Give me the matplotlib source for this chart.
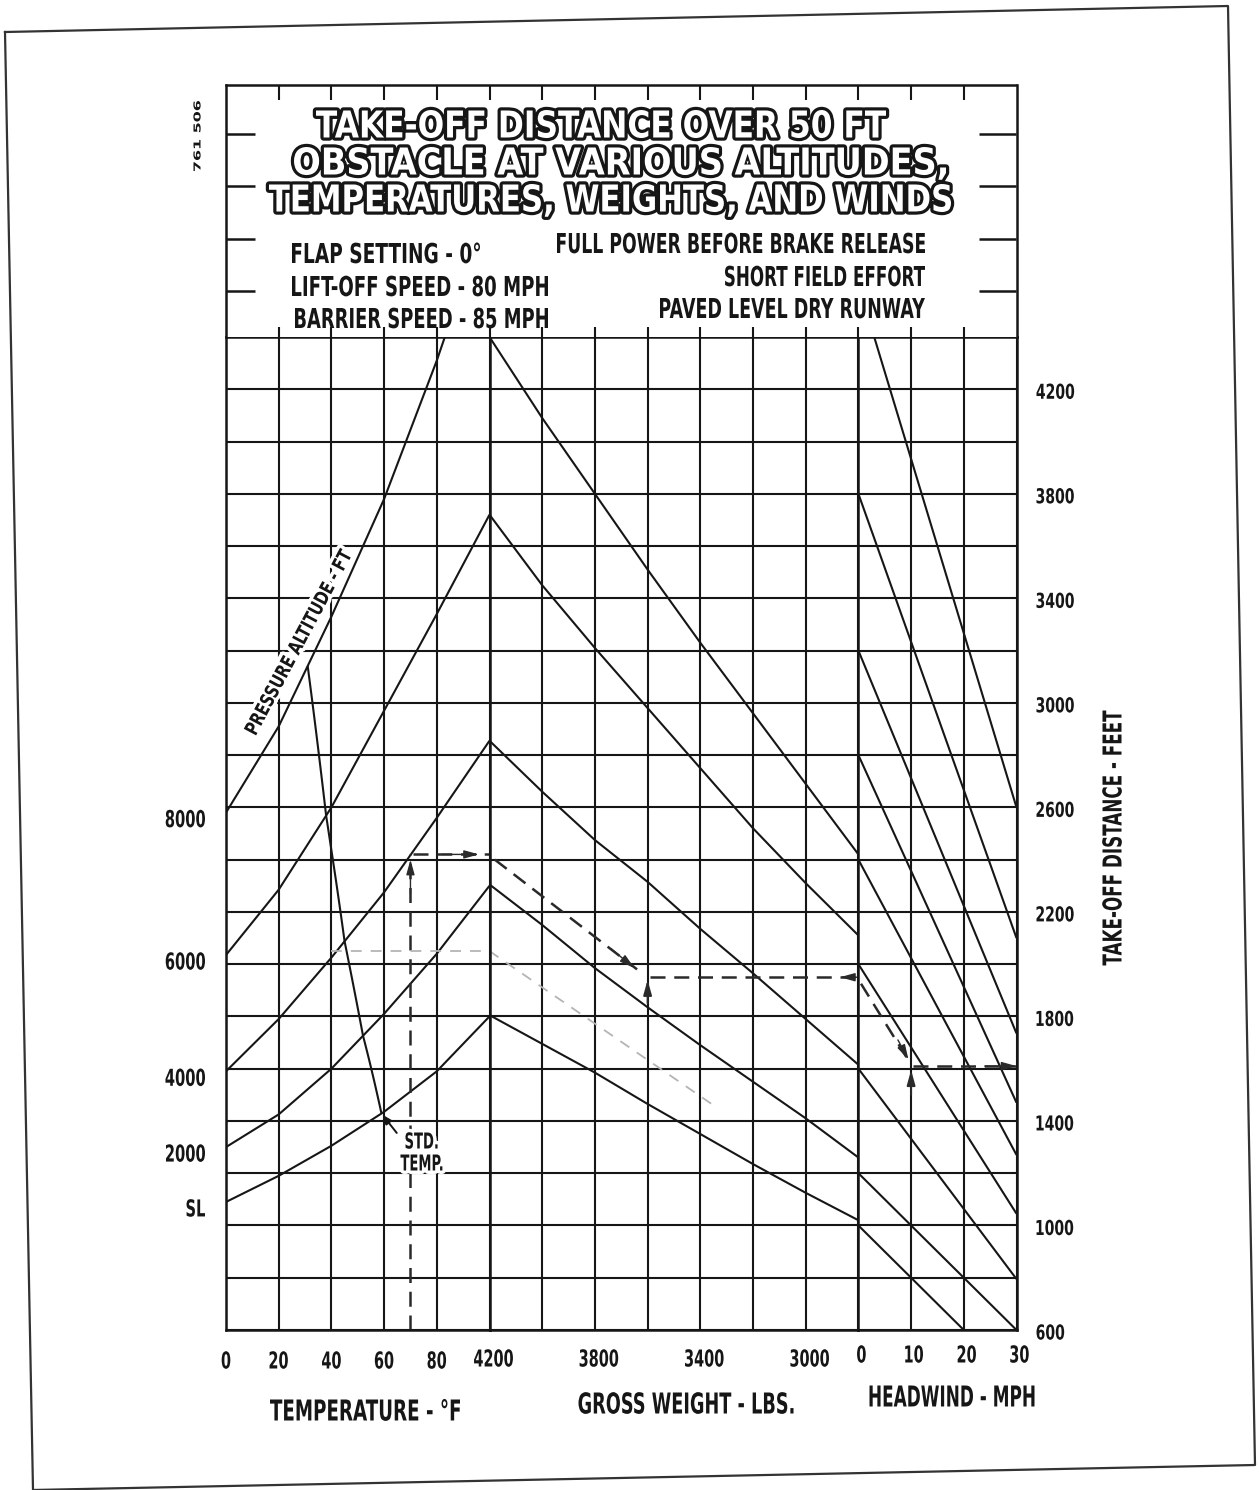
import numpy as np
import matplotlib.pyplot as plt
from matplotlib.font_manager import FontProperties
from matplotlib.textpath import TextPath
from matplotlib.patches import PathPatch
from matplotlib.transforms import Affine2D, IdentityTransform
from matplotlib.lines import Line2D

# ---- values ----
temps = [0, 20, 40, 60, 80, 100]
alt_feet = [0, 2000, 4000, 6000, 8000]
alt_labels = ["SL", "2000", "4000", "6000", "8000"]
# take-off distance (ft) of each pressure altitude curve at the temperature grid
dist_sl = [1090, 1190, 1305, 1435, 1590, 1800]
dist_2000 = [1300, 1425, 1600, 1810, 2040, 2300]
dist_4000 = [1590, 1790, 2025, 2275, 2560, 2855]
dist_6000 = [2035, 2285, 2600, 2970, 3340, 3720]
dist_8000 = [2580, 2910, 3330, 3780, 4310, 4900]
std_temp = [59, 52, 45, 38, 31]

# gross weight guide lines
weights = [4200, 4000, 3800, 3600, 3400, 3200, 3000, 2800]
guide_w1 = [4400, 4090, 3800, 3510, 3230, 2960, 2690, 2420]
guide_w2 = [3720, 3450, 3210, 2980, 2750, 2520, 2310, 2110]
guide_w3 = [2855, 2660, 2475, 2315, 2135, 1965, 1790, 1615]
guide_w4 = [2305, 2150, 1985, 1835, 1690, 1550, 1410, 1260]
guide_w5 = [1805, 1695, 1585, 1465, 1350, 1235, 1125, 1020]

# headwind guide lines: distance at 0 mph and at 30 mph
winds = [0, 30]
wind_start = [4600, 3800, 3200, 2800, 2400, 2000, 1600, 1200, 1000]
wind_end = [2600, 2100, 1735, 1470, 1270, 1045, 795, 600, 400]

# worked example (dashed)
ex_temp, ex_alt_dist = 70, 2420
ex_weight, ex_weight_dist = 3600, 1950
ex_wind, ex_result = 10, 1610
# faint second example
ex2_temp, ex2_dist = 40, 2050
ex2_weight, ex2_end = 3350, 1460

dist_ticks = list(range(600, 4401, 200))
dist_labels = [v for v in dist_ticks if (v - 600) % 400 == 0 and v <= 4200]
temp_labels = [0, 20, 40, 60, 80]
weight_labels = [4200, 3800, 3400, 3000]
wind_labels = [0, 10, 20, 30]

INK = "#161616"
W_PX, H_PX = 1259, 1490
X0, CW = 226, 52.7
Y_BOT, Y_TOP, Y_TITLE = 1330, 337, 85

fig = plt.figure(figsize=(W_PX / 100, H_PX / 100), dpi=100)

FP = FontProperties(family="DejaVu Sans", weight="bold")
CAP = 72.9  # cap height of DejaVu Sans Bold at size 100


def ptext(x, y, s, h, w=None, sq=0.62, ha="center", va="center", rot=0,
          fc=INK, halo=0, halo_fc="white", z=6):
    # narrow lettering drawn as glyph outlines; x, y in output pixels (origin bottom-left)
    tp = TextPath((0, 0), s, size=100, prop=FP)
    bb = tp.get_extents()
    k = h / CAP
    if w is not None:
        sq = w / (bb.width * k)
    dx = {"left": -bb.x0, "center": -(bb.x0 + bb.x1) / 2, "right": -bb.x1}[ha]
    dy = {"baseline": 0, "center": -CAP / 2, "top": -CAP}[va]
    tr = Affine2D().translate(dx, dy).scale(k * sq, k).rotate_deg(rot).translate(x, y)
    path = tr.transform_path(tp)
    if halo:
        fig.add_artist(PathPatch(path, fc=halo_fc, ec=halo_fc, lw=halo, joinstyle="round",
                                 transform=IdentityTransform(), zorder=z - 0.5))
    fig.add_artist(PathPatch(path, fc=fc, ec="none", lw=0,
                             transform=IdentityTransform(), zorder=z))


def top_text(x, y, s, h, **kw):
    ptext(x, H_PX - y, s, h, **kw)


def data_text(ax, xd, yd, s, h, dx=0, dy=0, **kw):
    x, y = ax.transData.transform((xd, yd))
    ptext(x + dx, y + dy, s, h, **kw)


def px_axes(x0, x1, y0, y1):
    return fig.add_axes([x0 / W_PX, 1 - y1 / H_PX, (x1 - x0) / W_PX, (y1 - y0) / H_PX])


ax_t = px_axes(X0, X0 + 5 * CW, Y_TOP, Y_BOT)
ax_w = px_axes(X0 + 5 * CW, X0 + 12 * CW, Y_TOP, Y_BOT)
ax_h = px_axes(X0 + 12 * CW, X0 + 15 * CW, Y_TOP, Y_BOT)

ax_t.set_xlim(0, 100)
ax_t.set_xticks(temps)
ax_w.set_xlim(4200, 2800)
ax_w.set_xticks(weights)
ax_h.set_xlim(0, 30)
ax_h.set_xticks(wind_labels)

for ax in (ax_t, ax_w, ax_h):
    ax.set_ylim(600, 4400)
    ax.set_yticks(dist_ticks)
    ax.grid(True, color=INK, lw=1.5)
    ax.set_axisbelow(True)
    ax.tick_params(length=0, labelbottom=False, labelleft=False)
    for s in ax.spines.values():
        s.set_linewidth(1.8)
        s.set_color(INK)

line_kw = dict(color=INK, lw=1.5, solid_capstyle="butt")

# temperature / altitude curves
curves = [dist_sl, dist_2000, dist_4000, dist_6000, dist_8000]
for lab, c in zip(alt_labels, curves):
    ax_t.plot(temps, c, **line_kw)
    data_text(ax_t, 0, c[0], lab, 17, dx=-21, dy=-6, sq=0.63, ha="right")

# standard temperature curve
alt_fine = np.linspace(0, 8000, 81)
std_fine = np.interp(alt_fine, alt_feet, std_temp)
std_dist = []
for a, t in zip(alt_fine, std_fine):
    at_t = [np.interp(t, temps, c) for c in curves]
    std_dist.append(np.interp(a, alt_feet, at_t))
ax_t.plot(std_fine, std_dist, **line_kw)
std_pt = (std_temp[0], np.interp(std_temp[0], temps, dist_sl))
ax_t.annotate("", xy=std_pt, xytext=(11, -14), textcoords="offset points",
              arrowprops=dict(arrowstyle="-|>,head_length=0.55,head_width=0.22", color=INK,
                              lw=1.4, shrinkA=0, shrinkB=1))
data_text(ax_t, *std_pt, "STD.", 16, dx=24, dy=-27, sq=0.6, ha="left", halo=5)
data_text(ax_t, *std_pt, "TEMP.", 16, dx=19, dy=-49, sq=0.6, ha="left", halo=5)

# pressure altitude caption beside the 8000 ft curve
data_text(ax_t, np.interp(3200, dist_8000, temps), 3200, "PRESSURE ALTITUDE - FT", 14,
          dx=-17, dy=9, w=205, rot=62, halo=5)

# weight guides
for g in (guide_w1, guide_w2, guide_w3, guide_w4, guide_w5):
    ax_w.plot(weights, g, **line_kw)

# headwind guides
for a, b in zip(wind_start, wind_end):
    ax_h.plot(winds, [a, b], **line_kw)

# worked example
ex_kw = dict(color="#2a2a2a", lw=1.8, ls=(0, (6, 3.5)))
ax_t.plot([ex_temp, ex_temp], [600, ex_alt_dist], **ex_kw)
ax_t.plot([ex_temp + 1, 100], [ex_alt_dist, ex_alt_dist], **ex_kw)
ax_w.plot([4180, ex_weight + 40], [ex_alt_dist - 20, ex_weight_dist + 30], **ex_kw)
ax_w.plot([ex_weight - 10, 2800], [ex_weight_dist] * 2, **ex_kw)
ax_h.plot([0.5, ex_wind - 0.3], [ex_weight_dist - 25, ex_result + 15], **ex_kw)
ax_h.plot([ex_wind + 0.4, 30], [ex_result] * 2, **ex_kw)


def arrow(ax, tail, tip, lw=1.0):
    ax.annotate("", xy=tip, xytext=tail,
                arrowprops=dict(arrowstyle="-|>,head_length=0.9,head_width=0.25",
                                color="#2a2a2a", lw=lw, shrinkA=0, shrinkB=0))


arrow(ax_t, (ex_temp, ex_alt_dist - 150), (ex_temp, ex_alt_dist - 20))
arrow(ax_t, (ex_temp + 12, ex_alt_dist), (ex_temp + 26, ex_alt_dist))
arrow(ax_w, (ex_weight + 140, ex_weight_dist + 110), (ex_weight + 50, ex_weight_dist + 35))
arrow(ax_w, (ex_weight - 1000, ex_weight_dist), (ex_weight - 730, ex_weight_dist))
arrow(ax_h, (ex_wind - 2.5, ex_result + 100), (ex_wind - 0.5, ex_result + 25))
arrow(ax_h, (ex_wind + 14, ex_result), (30, ex_result))
arrow(ax_w, (ex_weight, ex_weight_dist - 100), (ex_weight, ex_weight_dist - 10), lw=1.4)
arrow(ax_h, (ex_wind, ex_result - 110), (ex_wind, ex_result - 15), lw=1.4)

faint = dict(color="#b4b4b4", lw=1.3, ls=(0, (6, 5)))
ax_t.plot([ex2_temp, 100], [ex2_dist, ex2_dist], **faint)
ax_w.plot([4200, ex2_weight], [ex2_dist, ex2_end], **faint)

# ---- tick labels ----
for v in temp_labels:
    data_text(ax_t, v, 600, str(v), 17, dy=-30, sq=0.62)
for v in weight_labels:
    data_text(ax_w, v, 600, str(v), 17, dx=4, dy=-28, sq=0.62)
for v in wind_labels:
    data_text(ax_h, v, 600, str(v), 17, dx=3, dy=-24, sq=0.62)
for v in dist_labels:
    data_text(ax_h, 30, v, str(v), 15, dx=20, dy=-2, sq=0.68, ha="left")

# ---- title block ----
rows = (Y_BOT - Y_TOP) / 19
ax_top = px_axes(X0, X0 + 15 * CW, Y_TITLE, Y_TOP)
top_h = (Y_TOP - Y_TITLE) / rows
ax_top.set_xlim(0, 15)
ax_top.set_ylim(0, top_h)
ax_top.set_xticks([])
ax_top.set_yticks([])
ax_top.spines["bottom"].set_visible(False)
for s in ("left", "right", "top"):
    ax_top.spines[s].set_linewidth(1.8)
    ax_top.spines[s].set_color(INK)
cols = np.arange(1, 15)
ax_top.vlines(cols, top_h - 0.28, top_h, color=INK, lw=1.5)
ax_top.vlines(cols, 0, 0.2, color=INK, lw=1.5)
tick_rows = np.arange(1, 5) - 0.12
ax_top.hlines(tick_rows, 0, 0.55, color=INK, lw=1.8)
ax_top.hlines(tick_rows, 15 - 0.72, 15, color=INK, lw=1.8)

title_kw = dict(h=27, fc="white", halo=4.6, halo_fc=INK, z=7)
top_text(601, 124, "TAKE-OFF DISTANCE OVER 50 FT", w=570, **title_kw)
top_text(620, 161, "OBSTACLE AT VARIOUS ALTITUDES,", w=652, **title_kw)
top_text(610, 198, "TEMPERATURES, WEIGHTS, AND WINDS", w=682, **title_kw)

top_text(292, 253, "FLAP SETTING - 0°", 20, w=188, ha="left")
top_text(292, 286, "LIFT-OFF SPEED - 80 MPH", 20, w=256, ha="left")
top_text(295, 318, "BARRIER SPEED - 85 MPH", 20, w=253, ha="left")
top_text(925, 243, "FULL POWER BEFORE BRAKE RELEASE", 20, w=368, ha="right")
top_text(925, 276, "SHORT FIELD EFFORT", 20, w=200, ha="right")
top_text(925, 308, "PAVED LEVEL DRY RUNWAY", 20, w=265, ha="right")

top_text(197, 136, "761 506", 7, w=70, rot=90)

# axis captions
top_text(365, 1410, "TEMPERATURE - °F", 21, w=190)
top_text(686, 1403, "GROSS WEIGHT - LBS.", 21, w=215)
top_text(952, 1396, "HEADWIND - MPH", 21, w=165)
top_text(1112, 838, "TAKE-OFF DISTANCE - FEET", 19, w=255, rot=90)

# page frame of the scanned sheet
frame_x = np.array([5, 1228, 1255, 33, 5]) / W_PX
frame_y = 1 - np.array([32, 6, 1465, 1490, 32]) / H_PX
fig.add_artist(Line2D(frame_x, frame_y, transform=fig.transFigure, color="#333", lw=1.6))

fig.savefig("out.png", dpi=100, facecolor="white")
